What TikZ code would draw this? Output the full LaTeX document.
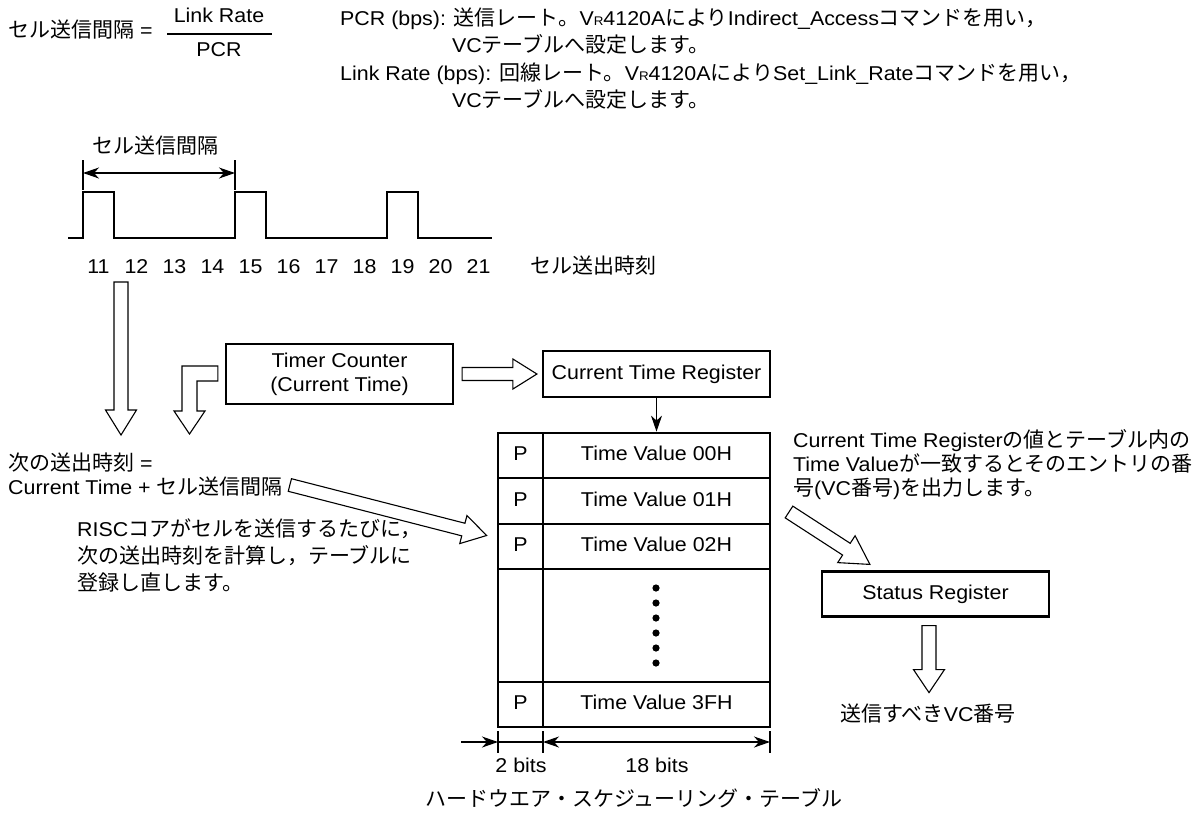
\documentclass[tikz,border=0pt]{standalone}
\usepackage{fontspec}
\setmainfont[FakeStretch=1.07]{Liberation Sans}
\newfontfamily\jp[Scale=1.05]{Noto Sans CJK JP}
\usetikzlibrary{calc,arrows.meta}
\newcommand{\vrname}{V{\fontsize{12.5}{12.5}\selectfont R}}
\newcommand{\hollowarrow}[5]{%
  \coordinate (ha-n) at ($(#2)!#5!(#1)$);
  \draw[hollowline] ($(#1)!#3!90:(#2)$) -- ($(ha-n)!#3!90:(#2)$) -- ($(ha-n)!#4!90:(#2)$) -- (#2)
    -- ($(ha-n)!#4!-90:(#2)$) -- ($(ha-n)!#3!-90:(#2)$) -- ($(#1)!#3!-90:(#2)$) -- cycle;
}
\begin{document}
\begin{tikzpicture}[x=1pt,y=-1pt,
  >={Stealth[length=16pt,width=11pt,inset=5pt]},
  every node/.style={font=\fontsize{20}{24}\selectfont, inner sep=0pt},
  fixh/.style={text height=14pt, text depth=4pt},
  txt/.style={fixh, anchor=west},
  lab/.style={fixh},
  box/.style={draw, line width=2.2pt, inner sep=0pt},
  cell/.style={draw, line width=2.8pt, inner sep=0pt, fixh},
  hollowline/.style={draw, line width=1.1pt, fill=white, line join=miter},
  pulse/.style={line width=2.8pt, line join=miter},
  dimline/.style={line width=1.2pt}]
\useasboundingbox (0,0) rectangle (1204,812);

% formula
\node[txt] (f1) at (8,32) {{\jp セル送信間隔} =};
\node[lab] (lr) at (219,17) {Link Rate};
\node[lab] (pcr) at (219,51) {PCR};
\draw[line width=1.3pt] (167,34) -- (272,34);

% description
\node[txt] (t1) at (340,20) {PCR (bps): {\jp 送信レート。}\vrname4120A{\jp により}Indirect\_Access{\jp コマンドを用い，}};
\node[txt] (t2) at (452,47) {VC{\jp テーブルへ設定します。}};
\node[txt] (t3) at (340,75) {Link Rate (bps): {\jp 回線レート。}\vrname4120A{\jp により}Set\_Link\_Rate{\jp コマンドを用い，}};
\node[txt] (t4) at (452,102) {VC{\jp テーブルへ設定します。}};

% timing
\node[lab] (lbl) at (155,148) {\jp セル送信間隔};
\coordinate (tka1) at (83,160); \coordinate (tka2) at (83,190);
\coordinate (tkb1) at (235,160); \coordinate (tkb2) at (235,190);
\draw[dimline] (tka1) -- (tka2);
\draw[dimline] (tkb1) -- (tkb2);
\coordinate (ia) at (83,173); \coordinate (ib) at (235,173);
\draw[dimline, <->] (ia) -- (ib);
\draw[pulse] (68,238) -- (83,238) -- (83,192) -- (114,192) -- (114,238) -- (235,238) -- (235,192) -- (266,192) -- (266,238)
  -- (387,238) -- (387,192) -- (418,192) -- (418,238) -- (492,238);
\foreach \n [count=\i from 0] in {11,...,21} \node[lab] (n\n) at ({98.5+38*\i},268) {\n};
\node[txt] (sout) at (530,268) {\jp セル送出時刻};

% hollow arrows on left
\coordinate (ba1) at (121,282); \coordinate (ba2) at (121,435);
\hollowarrow{ba1}{ba2}{7pt}{15.5pt}{25pt}

% timer counter
\node[box, minimum width=227pt, minimum height=60pt, align=center] (tc) at (339.5,374) {Timer Counter\\(Current Time)};
\draw[hollowline] ($(tc.west)+(-7,-8)$) -- (182,366) -- (182,411) -- (174,411) -- (189.5,434) -- (205,411) -- (197,411) -- (197,381) -- ($(tc.west)+(-7,7)$) -- cycle;

\node[box, minimum width=227pt, minimum height=46pt, fixh] (ctr) at (656.5,374) {Current Time Register};
\coordinate (ra1) at ($(tc.east)+(8,0)$); \coordinate (ra2) at ($(ctr.west)+(-5,0)$);
\hollowarrow{ra1}{ra2}{6.5pt}{15pt}{24pt}

% table
\node[cell, minimum width=45pt, minimum height=45pt] (p0) at (520.5,455.5) {P};
\node[cell, minimum width=227pt, minimum height=45pt] (v0) at (656.5,455.5) {Time Value 00H};
\node[cell, minimum width=45pt, minimum height=46pt] (p1) at (520.5,501) {P};
\node[cell, minimum width=227pt, minimum height=46pt] (v1) at (656.5,501) {Time Value 01H};
\node[cell, minimum width=45pt, minimum height=45pt] (p2) at (520.5,546.5) {P};
\node[cell, minimum width=227pt, minimum height=45pt] (v2) at (656.5,546.5) {Time Value 02H};
\node[cell, minimum width=45pt, minimum height=113pt] (pd) at (520.5,625.5) {};
\node[cell, minimum width=227pt, minimum height=113pt] (vd) at (656.5,625.5) {};
\node[cell, minimum width=45pt, minimum height=45pt] (p3) at (520.5,704.5) {P};
\node[cell, minimum width=227pt, minimum height=45pt] (v3) at (656.5,704.5) {Time Value 3FH};
\foreach \y in {588,603,...,663} \fill (656,\y) circle (3.6pt);
\draw[dimline, ->] (ctr.south) -- (v0.north);

% dimensions
\coordinate (d0) at (461,742); \coordinate (d1) at (498,742); \coordinate (d2) at (543,742); \coordinate (d3) at (770,742);
\draw[dimline] (498,731) -- (498,753);
\draw[dimline] (543,731) -- (543,753);
\draw[dimline] (770,731) -- (770,753);
\draw[dimline, ->] (d0) -- (d1);
\draw[dimline] (d1) -- (d2);
\draw[dimline, <->] (d2) -- (d3);
\node[lab] (b2) at (521,767) {2 bits};
\node[lab] (b18) at (657,767) {18 bits};
\node[lab] (cap) at (634,801) {\jp ハードウエア・スケジューリング・テーブル};

% right annotation
\node[txt] (c1) at (793,442) {Current Time Register{\jp の値とテーブル内の}};
\node[txt] (c2) at (793,466) {Time Value{\jp が一致するとそのエントリの番}};
\node[txt] (c3) at (793,490) {{\jp 号}(VC{\jp 番号})\jp を出力します。};
\node[box, minimum width=227pt, minimum height=45pt, fixh] (sr) at (935.5,594) {Status Register};
\coordinate (da1) at (789,512); \coordinate (da2) at ($(sr.north west)+(49,-6)$);
\hollowarrow{da1}{da2}{7pt}{16pt}{28pt}
\coordinate (sa1) at ($(sr.south)+(-6.5,8)$); \coordinate (sa2) at ($(sr.south)+(-6.5,75)$);
\hollowarrow{sa1}{sa2}{7pt}{15.5pt}{23pt}
\node[lab] (vc) at (928,716) {{\jp 送信すべき}VC{\jp 番号}};

% left annotations
\node[txt] (na1) at (8,465) {{\jp 次の送出時刻} =};
\node[txt] (na2) at (8,489) {Current Time + {\jp セル送信間隔}};
\coordinate (la1) at ($(na2.east)+(7,-4)$); \coordinate (la2) at ($(p2.west)+(-10,-11)$);
\hollowarrow{la1}{la2}{6.5pt}{14.5pt}{24pt}
\node[txt] (ri1) at (77,531) {RISC{\jp コアがセルを送信するたびに，}};
\node[txt] (ri2) at (77,558) {\jp 次の送出時刻を計算し，テーブルに};
\node[txt] (ri3) at (77,585) {\jp 登録し直します。};
\end{tikzpicture}
\end{document}
